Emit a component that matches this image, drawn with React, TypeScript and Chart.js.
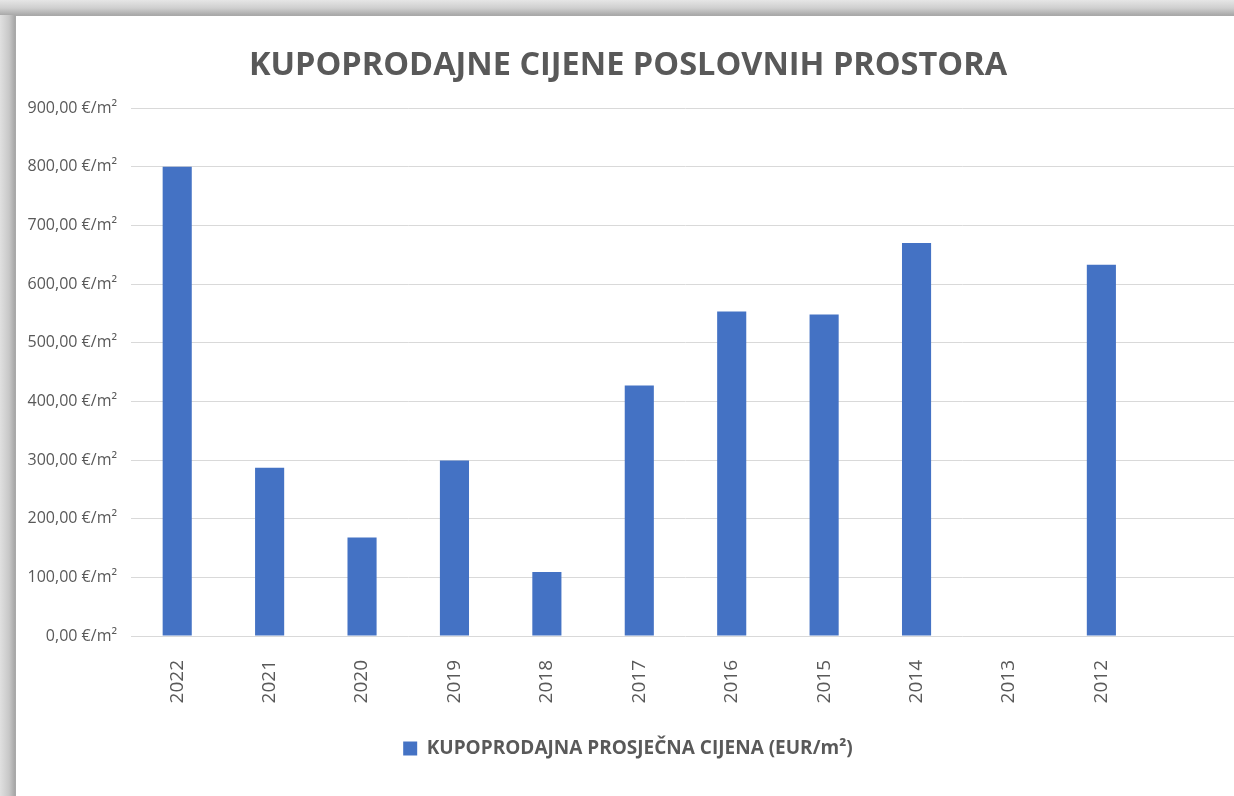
import React, { useEffect, useRef } from "react";
import { Chart, registerables } from "chart.js";

Chart.register(...registerables);

const titleText = "KUPOPRODAJNE CIJENE POSLOVNIH PROSTORA";
const seriesLabel = "KUPOPRODAJNA PROSJEČNA CIJENA (EUR/m²)";
const categories = ["2022", "2021", "2020", "2019", "2018", "2017", "2016", "2015", "2014", "2013", "2012", ""];
const prices = [800, 287, 168, 299, 109, 427, 553, 548, 670, null, 633, null];
const yMin = 0;
const yMax = 900;
const yStep = 100;

const fmt = (v: number) =>
  v.toFixed(2).replace(".", ",") + " €/m²";

export default function App() {
  const ref = useRef<HTMLCanvasElement | null>(null);

  useEffect(() => {
    if (!ref.current) return;
    const font = "'Open Sans', 'DejaVu Sans', sans-serif";
    const chart = new Chart(ref.current, {
      type: "bar",
      data: {
        labels: categories,
        datasets: [
          {
            label: seriesLabel,
            data: prices,
            backgroundColor: "#4472c4",
            borderWidth: 0,
            barPercentage: 0.315,
            categoryPercentage: 1,
          },
        ],
      },
      options: {
        animation: false,
        responsive: false,
        maintainAspectRatio: false,
        layout: { padding: { left: 0, right: 0, top: 0, bottom: 28 } },
        plugins: {
          tooltip: { enabled: false },
          title: {
            display: true,
            text: titleText,
            color: "#595959",
            font: { family: font, size: 32.5, weight: "bold" },
            padding: { top: 30, bottom: 23 },
          },
          legend: {
            display: true,
            position: "bottom",
            labels: {
              color: "#595959",
              font: { family: font, size: 19, weight: "bold" },
              boxWidth: 14,
              boxHeight: 14,
              padding: 10,
            },
          },
        },
        scales: {
          x: {
            grid: { display: false },
            border: { display: false },
            ticks: {
              color: "#595959",
              font: { family: font, size: 19 },
              minRotation: 90,
              maxRotation: 90,
              autoSkip: false,
              padding: 16,
            },
            afterFit: (s: any) => {
              s.height = 93;
            },
          },
          y: {
            min: yMin,
            max: yMax,
            grid: { color: "#d9d9d9", lineWidth: 1, drawTicks: false },
            border: { display: false },
            ticks: {
              stepSize: yStep,
              color: "#595959",
              font: { family: font, size: 16 },
              padding: 14,
              callback: (v: any) => fmt(Number(v)),
            },
            afterFit: (s: any) => {
              s.width = 115;
            },
          },
        },
      },
    });
    return () => chart.destroy();
  }, []);

  return (
    <div
      style={{
        position: "fixed",
        left: 0,
        top: 0,
        width: 1234,
        height: 796,
        overflow: "hidden",
        background: "linear-gradient(180deg, #e6e6e6 0px, #cfcfcf 8px, #a9a9a9 15px)",
      }}
    >
      <div
        style={{
          position: "absolute",
          left: 0,
          top: 15,
          width: 15,
          height: 781,
          background: "linear-gradient(90deg, #e0e0e0 0px, #c8c8c8 9px, #a6a6a6 15px)",
        }}
      />
      <div
        style={{
          position: "absolute",
          left: 16,
          top: 16,
          width: 1240,
          height: 780,
          background: "#ffffff",
        }}
      >
        <canvas ref={ref} width={1224} height={780} style={{ display: "block" }} />
      </div>
    </div>
  );
}
